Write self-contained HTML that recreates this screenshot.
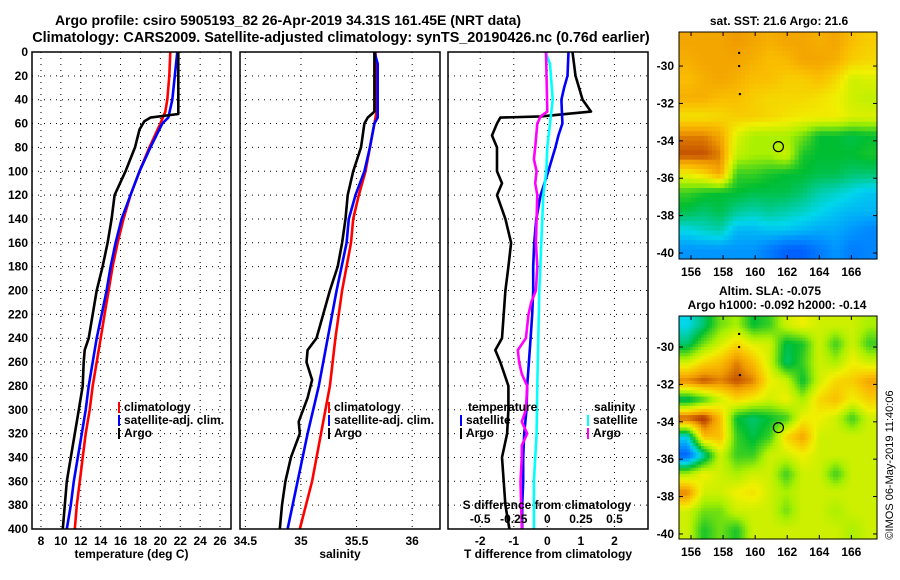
<!DOCTYPE html>
<html><head><meta charset="utf-8"><style>
html,body{margin:0;padding:0;background:#fff;}
svg{display:block;font-family:"Liberation Sans",sans-serif;font-weight:bold;}
</style></head><body>
<svg id="chart" width="900" height="580" viewBox="0 0 900 580" xmlns="http://www.w3.org/2000/svg">
<rect width="900" height="580" fill="#fff"/>
<text x="288" y="25" font-size="14" text-anchor="middle">Argo profile: csiro 5905193_82 26-Apr-2019 34.31S 161.45E (NRT data)</text>
<text x="341" y="42" font-size="14.4" text-anchor="middle">Climatology: CARS2009. Satellite-adjusted climatology: synTS_20190426.nc (0.76d earlier)</text>
<text x="779" y="25" font-size="12" text-anchor="middle">sat. SST: 21.6 Argo: 21.6</text>
<text x="770" y="295" font-size="12" text-anchor="middle">Altim. SLA: -0.075</text>
<text x="777" y="309" font-size="12" text-anchor="middle">Argo h1000: -0.092 h2000: -0.14</text>
<text transform="translate(893,465) rotate(-90)" font-size="11" font-weight="normal" text-anchor="middle">©IMOS 06-May-2019 11:40:06</text>
<g id="g"></g>
</svg>
<script>
// ---------- data ----------
const depthTicks=[0,20,40,60,80,100,120,140,160,180,200,220,240,260,280,300,320,340,360,380,400];
const tempTicks=[8,10,12,14,16,18,20,22,24,26];
const salTicks=[34.5,35,35.5,36];
const salTickLabels=["34.5","35","35.5","36"];
const tdiffTicks=[-2,-1,0,1,2];
const sdiffTicks=[-0.5,-0.25,0,0.25,0.5];
const sdiffTickLabels=["-0.5","-0.25","0","0.25","0.5"];
const lonTicks=[156,158,160,162,164,166];
const latTicks=[-30,-32,-34,-36,-38,-40];

const tClimD=[0,20,40,50,60,80,100,120,140,160,180,200,220,240,260,280,300,320,340,360,380,400];
const tClimV=[21.0,20.9,20.7,20.5,20.0,18.9,17.9,17.0,16.3,15.7,15.2,14.8,14.4,14.0,13.6,13.2,12.9,12.5,12.2,11.9,11.6,11.4];
const tSatD=[0,40,55,60,80,100,120,140,160,180,200,220,240,260,280,300,320,340,360,380,400];
const tSatV=[21.7,21.2,20.8,20.2,19.0,17.9,17.0,16.1,15.5,15.0,14.6,14.1,13.6,13.2,12.8,12.5,12.1,11.7,11.3,11.0,10.6];
const tArgoD=[0,52,55,58,65,75,80,100,120,140,160,180,200,220,240,250,260,280,300,320,340,360,380,400];
const tArgoV=[21.8,21.8,19.0,18.4,17.9,17.6,17.45,16.5,15.4,15.1,14.7,14.2,13.6,13.2,12.8,12.4,12.3,12.2,11.8,11.4,11.0,10.6,10.4,10.2];

const sClimD=[0,50,60,80,100,120,140,160,200,240,280,320,360,400];
const sClimV=[35.67,35.68,35.66,35.62,35.58,35.52,35.47,35.45,35.37,35.31,35.26,35.18,35.10,34.99];
const sSatD=[0,10,55,60,80,100,120,140,160,200,240,280,320,360,400];
const sSatV=[35.66,35.69,35.69,35.66,35.62,35.57,35.49,35.43,35.41,35.32,35.24,35.16,35.06,34.97,34.88];
const sArgoD=[0,50,55,60,80,100,120,140,160,180,200,220,240,250,260,275,290,310,320,340,360,380,400];
const sArgoV=[35.66,35.66,35.6,35.57,35.54,35.47,35.42,35.4,35.37,35.33,35.26,35.2,35.14,35.06,35.05,35.1,35.06,34.98,34.99,34.91,34.86,34.83,34.81];

const dTArgoD=[0,20,40,50,54,55,60,70,80,100,110,120,140,160,180,200,220,240,250,260,280,300,320,340,360,380,400];
const dTArgoV=[0.75,0.84,1.05,1.3,-0.2,-1.4,-1.5,-1.65,-1.5,-1.5,-1.35,-1.5,-1.25,-1.08,-1.16,-1.25,-1.3,-1.35,-1.55,-1.4,-1.16,-1.16,-1.2,-1.35,-1.3,-1.25,-1.13];
const dTSatD=[0,20,30,40,60,70,80,100,120,140,160,180,200,220,240,260,280,300,320,340,360,380,400];
const dTSatV=[0.63,0.6,0.5,0.42,0.45,0.33,0.24,0.03,-0.2,-0.33,-0.39,-0.42,-0.42,-0.45,-0.5,-0.55,-0.6,-0.62,-0.69,-0.72,-0.72,-0.75,-0.75];
const dSSatD=[0,10,40,60,80,100,120,160,200,240,280,320,360,400];
const dSSatV=[-0.015,0.02,0.04,0.02,0,-0.008,-0.03,-0.045,-0.06,-0.067,-0.075,-0.08,-0.1,-0.1];
const dSArgoD=[0,50,54,60,80,90,100,110,120,140,160,180,200,210,220,240,250,260,270,280,300,310,320,330,340,360,400];
const dSArgoV=[-0.01,0,-0.05,-0.075,-0.09,-0.1,-0.08,-0.09,-0.075,-0.08,-0.085,-0.075,-0.085,-0.12,-0.14,-0.16,-0.22,-0.21,-0.19,-0.15,-0.16,-0.19,-0.15,-0.19,-0.19,-0.2,-0.19];

const sstGrid=[
[.8,.8,.8,.82,.8,.78,.8,.8,.78,.8,.75,.72],
[.78,.8,.8,.8,.78,.75,.76,.8,.8,.78,.72,.7],
[.75,.78,.8,.78,.75,.75,.72,.72,.75,.7,.6,.62],
[.78,.78,.75,.75,.72,.7,.7,.7,.68,.65,.6,.58],
[.68,.68,.7,.72,.72,.7,.68,.66,.66,.66,.62,.62],
[.85,.85,.8,.62,.55,.55,.55,.5,.4,.4,.38,.4],
[.9,.9,.85,.58,.55,.55,.6,.42,.4,.4,.4,.42],
[.65,.7,.8,.45,.45,.42,.4,.4,.38,.38,.35,.35],
[.45,.42,.4,.4,.38,.38,.38,.35,.3,.28,.25,.22],
[.38,.35,.38,.32,.3,.32,.3,.28,.25,.22,.2,.2],
[.25,.28,.3,.2,.2,.22,.22,.2,.18,.18,.15,.12],
[.15,.15,.15,.15,.15,.1,.05,.05,.1,.15,.1,.12]];
const slaGrid=[
[.25,.35,.5,.55,.4,.45,.6,.65,.6,.6,.6,.55],
[.35,.5,.6,.7,.62,.6,.38,.42,.6,.45,.6,.45],
[.6,.7,.75,.85,.75,.6,.35,.45,.6,.55,.65,.6],
[.85,.9,.85,.9,.85,.65,.6,.4,.6,.7,.72,.8],
[.35,.45,.6,.7,.65,.6,.65,.55,.7,.75,.65,.72],
[.9,.95,.75,.4,.35,.4,.45,.65,.65,.6,.45,.6],
[.25,.75,.75,.45,.38,.45,.7,.8,.6,.6,.6,.6],
[.05,.3,.6,.45,.45,.6,.6,.65,.6,.6,.6,.6],
[.55,.65,.6,.55,.6,.6,.45,.6,.6,.45,.6,.6],
[.85,.6,.6,.65,.68,.6,.55,.6,.6,.6,.6,.6],
[.6,.5,.5,.6,.6,.6,.5,.6,.6,.55,.6,.6],
[.6,.42,.5,.42,.6,.6,.6,.6,.6,.6,.55,.6]];
const trackLon=[159,159,159.05];
const trackLat=[-29.3,-30,-31.5];
const argoLon=161.45, argoLat=-34.31;

// ---------- helpers ----------
const NS="http://www.w3.org/2000/svg";
const G=document.getElementById('g');
function el(tag,attrs,parent){const e=document.createElementNS(NS,tag);for(const k in attrs)e.setAttribute(k,attrs[k]);(parent||G).appendChild(e);return e;}
function txt(s,x,y,size,anchor,parent){const t=el('text',{x:x,y:y,'font-size':size,'text-anchor':anchor||'middle'},parent);t.textContent=s;return t;}
const lin=(d0,d1,r0,r1)=>v=>r0+(v-d0)*(r1-r0)/(d1-d0);
const yD=lin(0,400,52,529);
const xT=lin(7.1,27.1,32,231);
const xS=lin(34.452,36.25,240,440);
const xDT=lin(-2.96,3.0,448,648);
const xDS=v=>xDT(v*4);

function panel(name,x0,x1,xticks,xs,labels,title){
  const g=el('g',{});
  
  
  depthTicks.forEach(d=>{const y=yD(d);el('line',{x1:x0,x2:x1,y1:y,y2:y,stroke:'#000','stroke-width':1,'stroke-dasharray':'1,5'},g);});
  xticks.forEach((v,i)=>{const x=xs(v);el('line',{x1:x,x2:x,y1:52,y2:529,stroke:'#000','stroke-width':1,'stroke-dasharray':'1,5'},g);
    const t=txt(labels?labels[i]:String(v),x,545,12,'middle',g);});
  const tt=txt(title,(x0+x1)/2,558,12,'middle',g);
  
  
  return g;
}
function series(name,D,V,xs,color,g){
  const pts=D.map((d,i)=>xs(V[i]).toFixed(1)+','+yD(d).toFixed(1)).join(' ');
  const p=el('polyline',{points:pts,fill:'none',stroke:color,'stroke-width':2.6,'stroke-linejoin':'round'},g);
  
  
}
function frame(x0,x1){el('rect',{x:x0,y:52,width:x1-x0,height:477,fill:'none',stroke:'#000','stroke-width':1.5});}
function legendItem(label,x,y,color,name,g){
  el('rect',{x:x,y:y-9,width:2,height:11,fill:color},g);
  const t=txt(label,x+6,y,12,'start',g);
  
  
}

depthTicks.forEach(d=>{const t=txt(String(d),28,yD(d)+4,12,'end');
  
  });

const p1=panel('temperature-panel',32,231,tempTicks,xT,null,'temperature (deg C)');
series('temp-climatology-line',tClimD,tClimV,xT,'#ff0000',p1);
series('temp-satellite-line',tSatD,tSatV,xT,'#0000ff',p1);
series('temp-argo-line',tArgoD,tArgoV,xT,'#000',p1);
legendItem('climatology',118,411,'#ff0000','legend-climatology',p1);
legendItem('satellite-adj. clim.',118,424,'#0000ff','legend-satellite',p1);
legendItem('Argo',118,437,'#000','legend-argo',p1);
frame(32,231);

const p2=panel('salinity-panel',240,440,salTicks,xS,salTickLabels,'salinity');
series('sal-climatology-line',sClimD,sClimV,xS,'#ff0000',p2);
series('sal-satellite-line',sSatD,sSatV,xS,'#0000ff',p2);
series('sal-argo-line',sArgoD,sArgoV,xS,'#000',p2);
legendItem('climatology',328,411,'#ff0000','legend-climatology',p2);
legendItem('satellite-adj. clim.',328,424,'#0000ff','legend-satellite',p2);
legendItem('Argo',328,437,'#000','legend-argo',p2);
frame(240,440);

const p3=panel('difference-panel',448,648,tdiffTicks,xDT,null,'T difference from climatology');
series('dT-argo-line',dTArgoD,dTArgoV,xDT,'#000',p3);
series('dT-satellite-line',dTSatD,dTSatV,xDT,'#0000ff',p3);
series('dS-satellite-line',dSSatD,dSSatV,xDS,'#00ffff',p3);
series('dS-argo-line',dSArgoD,dSArgoV,xDS,'#ff00ff',p3);
let lt=txt('temperature',468,411,12,'start',p3);
lt=txt('salinity',594,411,12,'start',p3);
legendItem('satellite',460,424,'#0000ff','legend-t-satellite',p3);
legendItem('Argo',460,437,'#000','legend-t-argo',p3);
legendItem('satellite',587,424,'#00ffff','legend-s-satellite',p3);
legendItem('Argo',587,437,'#ff00ff','legend-s-argo',p3);
lt=txt('S difference from climatology',547,509,12,'middle',p3);
sdiffTicks.forEach((v,i)=>{const t=txt(sdiffTickLabels[i],xDS(v),523,12,'middle',p3);
  
  });
frame(448,648);

const stops=[[0,[0,70,255]],[0.15,[0,150,255]],[0.25,[0,215,235]],[0.4,[0,190,50]],[0.55,[170,240,0]],[0.65,[240,240,0]],[0.75,[250,190,0]],[0.82,[240,155,0]],[0.9,[195,80,0]],[1,[160,20,0]]];
function cmap(v){v=Math.max(0,Math.min(1,v));for(let i=1;i<stops.length;i++){if(v<=stops[i][0]){const a=stops[i-1],b=stops[i];const f=(v-a[0])/(b[0]-a[0]);return 'rgb('+a[1].map((c,k)=>Math.round(c+(b[1][k]-c)*f)).join(',')+')';}}return 'rgb(160,20,0)';}

function drawMap(name,grid,x0,x1,y0,y1,lon0,lon1,lat0,lat1,up){
  const g=el('g',{});
  
  
  const xL=lin(lon0,lon1,x0,x1), yL=lin(lat0,lat1,y0,y1);
  const R=grid.length,C=grid[0].length;
  const nr=R*up,nc=C*up,cw=(x1-x0)/nc,ch=(y1-y0)/nr;
  for(let r=0;r<nr;r++)for(let c=0;c<nc;c++){
    const fr=Math.max(0,Math.min(R-1,(r+0.5)/up-0.5)),fc=Math.max(0,Math.min(C-1,(c+0.5)/up-0.5));
    const r0=Math.floor(fr),c0=Math.floor(fc),r1=Math.min(R-1,r0+1),c1=Math.min(C-1,c0+1),a=fr-r0,b=fc-c0;
    const v=grid[r0][c0]*(1-a)*(1-b)+grid[r0][c1]*(1-a)*b+grid[r1][c0]*a*(1-b)+grid[r1][c1]*a*b;
    const cell=el('rect',{x:(x0+c*cw).toFixed(2),y:(y0+r*ch).toFixed(2),width:(cw+0.6).toFixed(2),height:(ch+0.6).toFixed(2),fill:cmap(v)},g);
    
    
  }
  el('rect',{x:x0,y:y0,width:x1-x0,height:y1-y0,fill:'none',stroke:'#000','stroke-width':1},g);
  lonTicks.forEach(l=>{const x=xL(l);el('line',{x1:x,x2:x,y1:y1,y2:y1-4,stroke:'#000'},g);el('line',{x1:x,x2:x,y1:y0,y2:y0+4,stroke:'#000'},g);
    const t=txt(String(l),x,y1+17,12,'middle',g);});
  latTicks.forEach(l=>{const y=yL(l);el('line',{x1:x0,x2:x0+4,y1:y,y2:y,stroke:'#000'},g);el('line',{x1:x1,x2:x1-4,y1:y,y2:y,stroke:'#000'},g);
    const t=txt(String(l),x0-5,y+4,12,'end',g);});
  trackLon.forEach((lo,i)=>{const d=el('circle',{cx:xL(lo),cy:yL(trackLat[i]),r:1.2,fill:'#000'},g);});
  const c=el('circle',{cx:xL(argoLon),cy:yL(argoLat),r:5,fill:'none',stroke:'#000','stroke-width':1.2},g);
  
  
}
drawMap('sst-map',sstGrid,679,877,32,259,155.25,167.6,-28.18,-40.32,4);
drawMap('sla-map',slaGrid,679,877,316,539,155.25,167.6,-28.34,-40.27,6);
</script>
</body></html>
